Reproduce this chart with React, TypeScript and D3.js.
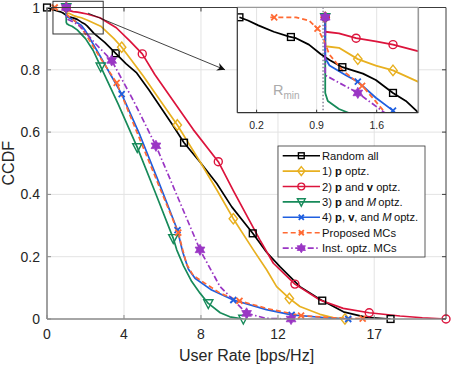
import React from 'react';
import * as d3 from 'd3';

const W = 452;
const H = 365;

// ---------- data ----------
const xTicks = [0, 4, 8, 12, 17];
const yTicks = [0, 0.2, 0.4, 0.6, 0.8, 1];
const yTickLabels = ['0', '0.2', '0.4', '0.6', '0.8', '1'];
const insetTicks = [0.2, 0.9, 1.6];
const rMin = 0.975;

const randomAll = [[0,1],[0.1,0.998],[0.22,0.995],[0.4,0.991],[0.58,0.988],[0.66,0.987],[0.81,0.983],[0.95,0.977],[1.05,0.9735],[1.2,0.969],[1.44,0.965],[1.59,0.961],[1.79,0.953],[1.94,0.948],[2.08,0.941],[2.44,0.917],[3.0,0.888],[3.57,0.853],[4.1,0.82],[4.66,0.79],[5.3,0.735],[5.87,0.683],[6.5,0.625],[7.12,0.566],[8.0,0.5],[8.82,0.435],[9.6,0.36],[10.69,0.275],[11.4,0.215],[12.1,0.168],[13.14,0.104],[14.3,0.059],[15.4,0.023],[16.6,0.005],[17.85,0]];
const pOpt = [[1,1],[1,0.982],[1.16,0.981],[1.38,0.974],[1.59,0.97],[1.79,0.967],[2.08,0.96],[2.79,0.94],[3.48,0.9],[3.86,0.874],[4.4,0.83],[5.0,0.78],[5.9,0.7],[6.77,0.623],[7.95,0.505],[8.82,0.415],[9.68,0.322],[10.72,0.222],[11.41,0.158],[11.93,0.104],[12.59,0.066],[13.14,0.04],[14.18,0.015],[14.9,0.004],[15.48,0]];
const pvOpt = [[1,1],[1,0.991],[1.16,0.99],[1.36,0.987],[1.59,0.985],[1.79,0.983],[2.08,0.979],[2.75,0.967],[3.6,0.935],[4.3,0.893],[4.95,0.851],[5.6,0.785],[6.39,0.715],[7.6,0.608],[8.9,0.505],[9.7,0.41],[10.5,0.318],[11.06,0.254],[11.76,0.179],[12.88,0.112],[14.18,0.061],[15.39,0.034],[16.74,0.02],[18.34,0.0096],[19.5,0.004],[20.73,0]];
const pMOpt = [[1,1],[1,0.953],[1.03,0.948],[1.16,0.943],[1.3,0.94],[1.57,0.928],[2.0,0.9],[2.4,0.862],[2.79,0.81],[3.7,0.69],[4.69,0.551],[5.6,0.41],[6.56,0.259],[6.74,0.222],[7.1,0.17],[7.52,0.12],[7.95,0.083],[8.38,0.05],[9.0,0.02],[9.5,0.007],[10.2,0]];
const pvMOpt = [[1,1],[1,0.9745],[1.05,0.97],[1.24,0.964],[1.38,0.96],[1.59,0.95],[1.79,0.942],[2.0,0.925],[2.75,0.845],[3.3,0.785],[3.88,0.722],[4.83,0.59],[5.8,0.44],[6.78,0.285],[7.05,0.215],[7.35,0.16],[7.69,0.131],[8.5,0.095],[9.68,0.061],[11.4,0.03],[12.71,0.013],[14.5,0.004],[15.65,0]];
const proposedMC = [[0.36,1],[0.66,1],[0.81,0.998],[0.91,0.993],[0.99,0.985],[1.047,0.977],[1.2,0.967],[1.44,0.957],[1.71,0.94],[2.0,0.915],[2.75,0.84],[3.62,0.758],[4.83,0.576],[5.8,0.43],[6.82,0.277],[7.05,0.222],[7.26,0.175],[7.6,0.14],[7.95,0.125],[8.99,0.083],[10.0,0.058],[11.41,0.034],[13.2,0.011],[14.87,0.004],[16.4,0.001],[16.6,0]];
const instMC = [[1,1],[1,0.964],[1.38,0.953],[1.71,0.94],[2.5,0.885],[3.36,0.83],[4.5,0.7],[5.66,0.556],[6.8,0.39],[7.95,0.222],[8.99,0.104],[9.68,0.061],[10.37,0.018],[11.4,0.002],[12.68,0],[12.9,0]];

const randomMarksMain = [0, 3.57, 7.12, 10.69, 14.3, 17.85];
const pOptMarksMain = [1, 3.88, 6.77, 9.68, 12.59, 15.48];
const pvOptMarksMain = [1, 4.95, 8.9, 12.88, 16.74, 20.73];
const pMOptMarksMain = [1, 2.79, 4.69, 6.56, 8.38, 10.2];
const pvMOptMarksMain = [1, 3.88, 6.78, 9.68, 12.71, 15.65];
const proposedMarksMain = [0.4, 3.62, 6.82, 10.0, 13.2, 16.4];
const instMarksMain = [1, 3.36, 5.66, 7.95, 10.37, 12.68];

const randomMarksInset = [0, 0.6, 1.2, 1.79];
const pOptMarksInset = [1, 1.38, 1.79];
const pvOptMarksInset = [1, 1.36, 1.79];
const pMOptMarksInset = [1];
const pvMOptMarksInset = [1, 1.38, 1.79];
const proposedMarksInset = [0.405, 0.91, 1.43];
const instMarksInset = [1, 1.38];

const zoomBoxX = [0.31, 2.92];
const zoomBoxY = [0.915, 1.02];
const arrowFrom = [2.13, 0.982];
const arrowTo = [9.25, 0.8];

type Seg = [string, string?];
const series = [
  { data: randomAll, color: '#000000', dash: '', marker: 'square', mm: randomMarksMain, im: randomMarksInset, label: [['Random all']] as Seg[] },
  { data: pOpt, color: '#E8B020', dash: '', marker: 'diamond', mm: pOptMarksMain, im: pOptMarksInset, label: [['1) '], ['p', 'b'], [' optz.']] as Seg[] },
  { data: pvOpt, color: '#DC143C', dash: '', marker: 'circle', mm: pvOptMarksMain, im: pvOptMarksInset, label: [['2) '], ['p', 'b'], [' and '], ['v', 'b'], [' optz.']] as Seg[] },
  { data: pMOpt, color: '#178A5A', dash: '', marker: 'tri', mm: pMOptMarksMain, im: pMOptMarksInset, label: [['3) '], ['p', 'b'], [' and '], ['M', 'i'], ['\u2009optz.']] as Seg[] },
  { data: pvMOpt, color: '#1F5FE0', dash: '', marker: 'x', mm: pvMOptMarksMain, im: pvMOptMarksInset, label: [['4) '], ['p', 'b'], [', '], ['v', 'b'], [', and '], ['M', 'i'], ['\u2009optz.']] as Seg[] },
  { data: proposedMC, color: '#FF6A33', dash: '5,3', marker: 'x', mm: proposedMarksMain, im: proposedMarksInset, label: [['Proposed MCs']] as Seg[] },
  { data: instMC, color: '#9A36C4', dash: '6,2.5,1.5,2.5', marker: 'hex', mm: instMarksMain, im: instMarksInset, label: [['Inst. optz. MCs']] as Seg[] },
];

// ---------- helpers ----------
function interp(data: number[][], x: number): number {
  for (let i = 0; i < data.length - 1; i++) {
    const [x0, y0] = data[i];
    const [x1, y1] = data[i + 1];
    if (x >= x0 && x <= x1) {
      if (x1 === x0) return y0;
      return y0 + ((y1 - y0) * (x - x0)) / (x1 - x0);
    }
  }
  return x < data[0][0] ? data[0][1] : data[data.length - 1][1];
}

function Marker({ type, x, y, color, s = 1 }: { type: string; x: number; y: number; color: string; s?: number }) {
  const sw = 1.4;
  if (type === 'square') {
    const h = 3.4 * s;
    return <rect x={x - h} y={y - h} width={2 * h} height={2 * h} fill="none" stroke={color} strokeWidth={sw} />;
  }
  if (type === 'diamond') {
    const a = 4.2 * s, b = 5.2 * s;
    return <path d={`M${x},${y - b}L${x + a},${y}L${x},${y + b}L${x - a},${y}Z`} fill="none" stroke={color} strokeWidth={sw} />;
  }
  if (type === 'circle') {
    return <circle cx={x} cy={y} r={4 * s} fill="none" stroke={color} strokeWidth={sw} />;
  }
  if (type === 'tri') {
    const a = 4.6 * s;
    return <path d={`M${x - a},${y - a * 0.8}L${x + a},${y - a * 0.8}L${x},${y + a * 1.1}Z`} fill="none" stroke={color} strokeWidth={sw} />;
  }
  if (type === 'x') {
    const a = 3 * s;
    return <path d={`M${x - a},${y - a}L${x + a},${y + a}M${x - a},${y + a}L${x + a},${y - a}`} fill="none" stroke={color} strokeWidth={1.8} />;
  }
  // hexagram
  const pts: string[] = [];
  for (let k = 0; k < 12; k++) {
    const r = k % 2 === 0 ? 5.6 * s : 3.2 * s;
    const ang = (Math.PI / 6) * k - Math.PI / 2;
    pts.push(`${x + r * Math.cos(ang)},${y + r * Math.sin(ang)}`);
  }
  return <polygon points={pts.join(' ')} fill={color} stroke={color} strokeWidth={0.8} strokeLinejoin="round" />;
}

const FONT = 'Liberation Sans, Arial, Helvetica, sans-serif';

export default function App() {
  const px0 = 47, px1 = 446, py0 = 7.5, py1 = 319;
  const x = d3.scaleLinear().domain([0, 20.73]).range([px0, px1]);
  const y = d3.scaleLinear().domain([0, 1]).range([py1, py0]);

  const ix0 = 237.3, ix1 = 418.3, iy0 = 7.3, iy1 = 112.7;
  const xi = d3.scaleLinear().domain([-0.025, 2.085]).range([ix0, ix1]);
  const yi = d3.scaleLinear().domain([0.9407, 1.0062]).range([iy1, iy0]);

  const lineMain = d3.line<number[]>().x((d) => x(d[0])).y((d) => y(d[1]));
  const lineInset = d3.line<number[]>().x((d) => xi(d[0])).y((d) => yi(d[1]));

  const gridColor = '#e3e3e3';
  const axisGray = '#8c8c8c';
  const axisDark = '#3c3c3c';

  const lx0 = 278, ly0 = 146, lw = 147, lh = 111;
  const legendY = (i: number) => 155.7 + i * 15.4;

  return (
    <svg width={W} height={H} style={{ display: 'block', position: 'absolute', left: 0, top: 0 }} fontFamily={FONT}>
      <defs>
        <clipPath id="mainClip">
          <rect x={px0} y={py0} width={px1 - px0} height={py1 - py0} />
        </clipPath>
        <clipPath id="insetClip">
          <rect x={ix0} y={iy0} width={ix1 - ix0} height={iy1 - iy0} />
        </clipPath>
        <marker id="arrowHead" viewBox="0 0 10 10" refX="10" refY="5" markerWidth="12" markerHeight="8" orient="auto" markerUnits="userSpaceOnUse">
          <path d="M0,0L10,5L0,10L3,5Z" fill="#111" />
        </marker>
      </defs>
      <rect x={0} y={0} width={W} height={H} fill="#fff" />

      {/* grid */}
      {xTicks.map((t) => (
        <line key={'gx' + t} x1={x(t)} x2={x(t)} y1={py0} y2={py1} stroke={gridColor} strokeWidth={1} />
      ))}
      {yTicks.map((t) => (
        <line key={'gy' + t} x1={px0} x2={px1} y1={y(t)} y2={y(t)} stroke={gridColor} strokeWidth={1} />
      ))}

      {/* main curves */}
      <g clipPath="url(#mainClip)">
        {series.map((s, i) => (
          <path key={'c' + i} d={lineMain(s.data) || ''} fill="none" stroke={s.color} strokeWidth={1.7} strokeDasharray={s.dash || undefined} strokeLinejoin="round" />
        ))}
      </g>
      {series.map((s, i) => (
        <g key={'m' + i}>
          {s.mm.map((mx, j) => (
            <Marker key={j} type={s.marker} x={x(mx)} y={y(interp(s.data, mx))} color={s.color} />
          ))}
        </g>
      ))}

      {/* axes box */}
      <line x1={px0} x2={px1} y1={py0} y2={py0} stroke={axisDark} strokeWidth={1} />
      <line x1={px1} x2={px1} y1={py0} y2={py1} stroke={axisDark} strokeWidth={1} />
      <line x1={px0} x2={px0} y1={py0} y2={py1} stroke={axisGray} strokeWidth={1.6} />
      <line x1={px0} x2={px1} y1={py1} y2={py1} stroke={axisGray} strokeWidth={1.6} />
      {xTicks.map((t) => (
        <g key={'tx' + t}>
          <line x1={x(t)} x2={x(t)} y1={py1} y2={py1 - 4} stroke={axisGray} strokeWidth={1} />
          <line x1={x(t)} x2={x(t)} y1={py0} y2={py0 + 4} stroke={axisDark} strokeWidth={1} />
          <text x={x(t)} y={py1 + 20} textAnchor="middle" fontSize={14} fill="#262626">{t}</text>
        </g>
      ))}
      {yTicks.map((t, i) => (
        <g key={'ty' + t}>
          <line x1={px0} x2={px0 + 4} y1={y(t)} y2={y(t)} stroke={axisGray} strokeWidth={1} />
          <line x1={px1} x2={px1 - 4} y1={y(t)} y2={y(t)} stroke={axisDark} strokeWidth={1} />
          <text x={px0 - 7} y={y(t)} dy="0.36em" textAnchor="end" fontSize={14} fill="#262626">{yTickLabels[i]}</text>
        </g>
      ))}
      <text x={(px0 + px1) / 2} y={361} textAnchor="middle" fontSize={16} fill="#262626">User Rate [bps/Hz]</text>
      <text transform={`translate(14,${(py0 + py1) / 2}) rotate(-90)`} textAnchor="middle" fontSize={16} fill="#262626">CCDF</text>

      {/* zoom box and arrow */}
      <rect x={x(zoomBoxX[0])} y={y(zoomBoxY[1])} width={x(zoomBoxX[1]) - x(zoomBoxX[0])} height={y(zoomBoxY[0]) - y(zoomBoxY[1])} fill="none" stroke="#333" strokeWidth={1} />
      <line x1={x(arrowFrom[0])} y1={y(arrowFrom[1])} x2={x(arrowTo[0])} y2={y(arrowTo[1])} stroke="#111" strokeWidth={0.8} markerEnd="url(#arrowHead)" />

      {/* inset */}
      <rect x={ix0} y={iy0} width={ix1 - ix0} height={iy1 - iy0} fill="#fff" />
      {insetTicks.map((t) => (
        <line key={'ig' + t} x1={xi(t)} x2={xi(t)} y1={iy0} y2={iy1} stroke={gridColor} strokeWidth={1} />
      ))}
      <text x={273} y={95} fontSize={14.5} fill="#ababab">R<tspan fontSize={10} dy={3.5}>min</tspan></text>
      <line x1={xi(rMin)} x2={xi(rMin)} y1={iy0} y2={iy1} stroke="#8f8aa0" strokeWidth={1.6} strokeDasharray="1.5,2" />
      <g clipPath="url(#insetClip)">
        {series.map((s, i) => (
          <path key={'ic' + i} d={lineInset(s.data) || ''} fill="none" stroke={s.color} strokeWidth={1.8} strokeDasharray={s.dash || undefined} strokeLinejoin="round" />
        ))}
        {series.map((s, i) => (
          <g key={'im' + i}>
            {s.im.map((mx, j) => (
              <Marker key={j} type={s.marker} x={xi(mx)} y={yi(interp(s.data, mx))} color={s.color} />
            ))}
          </g>
        ))}
      </g>
      <line x1={ix0} x2={ix1} y1={iy0} y2={iy0} stroke="#9a9a9a" strokeWidth={1.3} />
      <line x1={ix1} x2={ix1} y1={iy0} y2={iy1} stroke="#9a9a9a" strokeWidth={1.6} />
      <line x1={ix0} x2={ix0} y1={iy0} y2={iy1} stroke="#333" strokeWidth={1.2} />
      <line x1={ix0} x2={ix1} y1={iy1} y2={iy1} stroke="#333" strokeWidth={1.2} />
      {insetTicks.map((t) => (
        <g key={'it' + t}>
          <line x1={xi(t)} x2={xi(t)} y1={iy1} y2={iy1 - 3} stroke="#333" strokeWidth={1} />
          <text x={xi(t)} y={iy1 + 16} textAnchor="middle" fontSize={10.5} fill="#262626">{t}</text>
        </g>
      ))}

      {/* legend */}
      <rect x={lx0} y={ly0} width={lw} height={lh} fill="#fff" stroke="#333" strokeWidth={0.8} />
      {series.map((s, i) => (
        <g key={'lg' + i}>
          <line x1={282.7} x2={320} y1={legendY(i)} y2={legendY(i)} stroke={s.color} strokeWidth={1.6} strokeDasharray={s.dash || undefined} />
          <Marker type={s.marker} x={301.3} y={legendY(i)} color={s.color} s={0.85} />
          <text x={322} y={legendY(i)} dy="0.36em" fontSize={11.2} fill="#111">
            {s.label.map((seg, k) => (
              <tspan key={k} fontWeight={seg[1] === 'b' ? 'bold' : undefined} fontStyle={seg[1] === 'i' ? 'italic' : undefined}>{seg[0]}</tspan>
            ))}
          </text>
        </g>
      ))}
    </svg>
  );
}
